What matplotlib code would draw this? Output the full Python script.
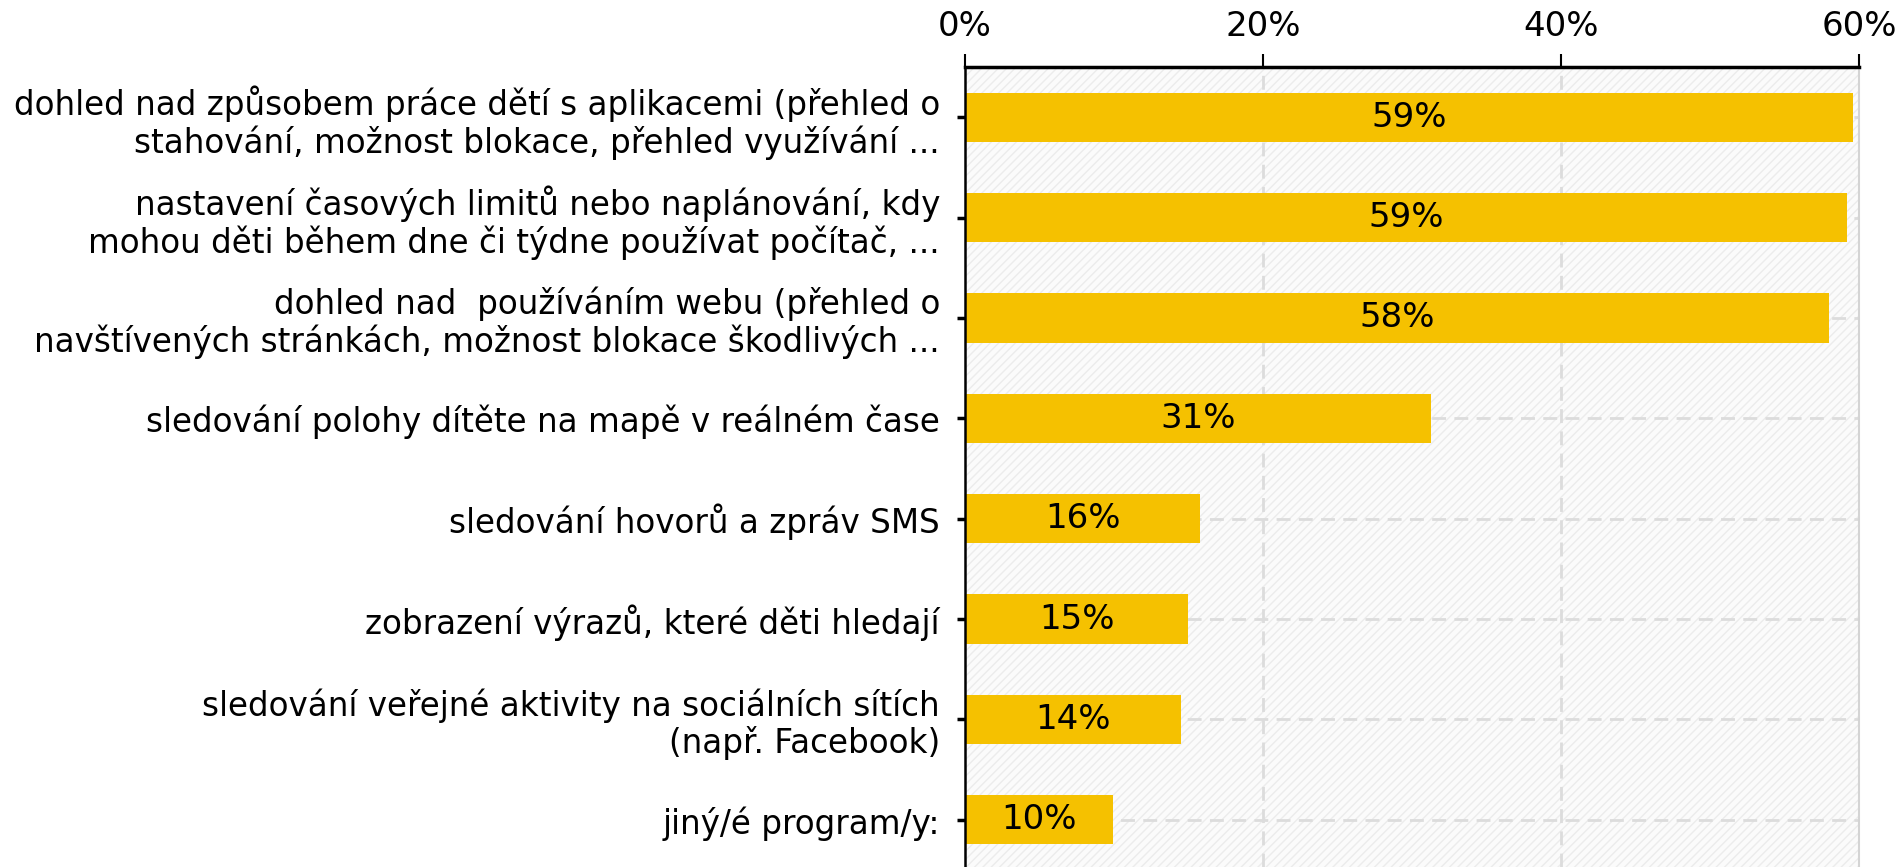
import numpy as np
import matplotlib
matplotlib.use("Agg")
import matplotlib.pyplot as plt
import matplotlib.patches as mpatches

# DATA
categories = [
    "dohled nad způsobem práce dětí s aplikacemi (přehled o\nstahování, možnost blokace, přehled využívání ...",
    "nastavení časových limitů nebo naplánování, kdy\nmohou děti během dne či týdne používat počítač, ...",
    "dohled nad  používáním webu (přehled o\nnavštívených stránkách, možnost blokace škodlivých ...",
    "sledování polohy dítěte na mapě v reálném čase",
    "sledování hovorů a zpráv SMS",
    "zobrazení výrazů, které děti hledají",
    "sledování veřejné aktivity na sociálních sítích\n(např. Facebook)",
    "jiný/é program/y:",
]
values = [59.6, 59.2, 58.0, 31.3, 15.8, 15.0, 14.5, 9.9]
valueLabels = ["59%", "59%", "58%", "31%", "16%", "15%", "14%", "10%"]
xTicks = [0, 20, 40, 60]
xTickLabels = ["0%", "20%", "40%", "60%"]

barColor = "#F5C100"
gridColor = "#dcdcdc"

plt.rcParams['font.family'] = ['DejaVu Sans']
plt.rcParams['hatch.linewidth'] = 1.0
plt.rcParams['hatch.color'] = '#ececec'

fig = plt.figure(figsize=(18.99, 8.67), dpi=100)
ax = fig.add_axes([965 / 1899, 0, (1859 - 965) / 1899, (867 - 67) / 867])

y = np.arange(len(categories))

# HATCHED BACKGROUND
ax.add_patch(mpatches.Rectangle((0, -0.5), 60, 9, facecolor='#fbfbfb',
                                edgecolor='#ececec', hatch='////', linewidth=0,
                                zorder=0))

# GRID LINES
for gx in xTicks[1:]:
    ax.axvline(gx, color=gridColor, linestyle=(0, (5, 3)), linewidth=2, zorder=1)
for gy in y:
    ax.axhline(gy, color=gridColor, linestyle=(0, (5, 3)), linewidth=2, zorder=1)

# BARS
ax.barh(y, values, height=0.49, color=barColor, zorder=2)
for yi, v, lab in zip(y, values, valueLabels):
    ax.text(v / 2, yi, lab, ha='center', va='center', fontsize=24.5,
            color='black', zorder=3)

ax.set_xlim(0, 60)
ax.set_ylim(7.47, -0.5)

ax.xaxis.tick_top()
ax.set_xticks(xTicks)
ax.set_xticklabels(xTickLabels, fontsize=24.5)
ax.tick_params(axis='x', length=9.4, width=1.5, pad=8, color='black')

ax.set_yticks(y)
ax.set_yticklabels(categories, fontsize=23.5, linespacing=1.12)
ax.tick_params(axis='y', length=6, width=2.5, pad=12, color='black')

ax.spines['top'].set_linewidth(2.5)
ax.spines['left'].set_linewidth(1.8)
ax.spines['right'].set_color('#d4d4d4')
ax.spines['right'].set_linewidth(1.5)
ax.spines['bottom'].set_visible(False)

fig.savefig("out.png", dpi=100, facecolor='white')
